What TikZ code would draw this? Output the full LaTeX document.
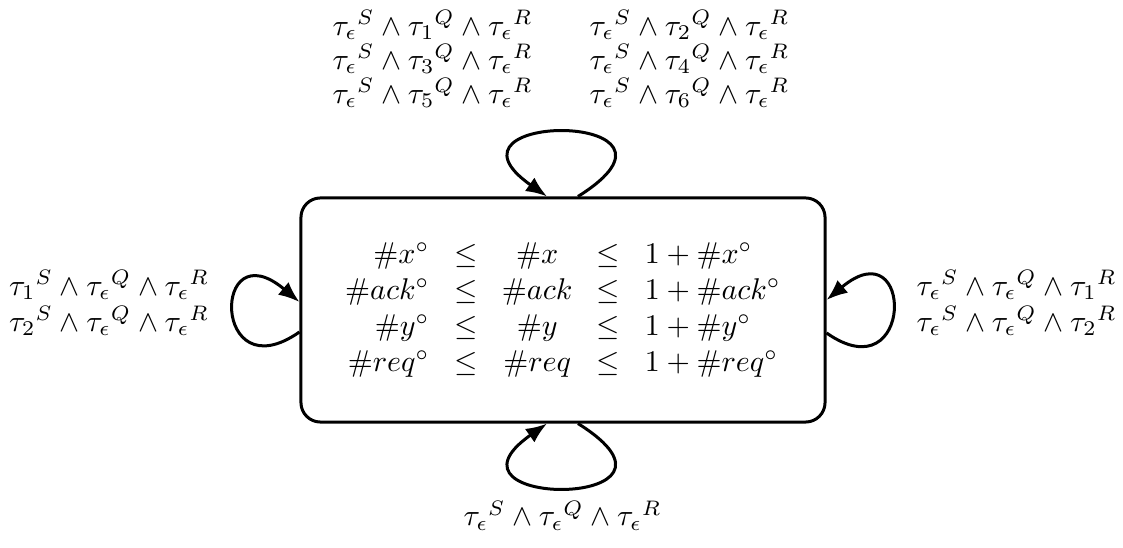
\documentclass[tikz,border=0pt]{standalone}
\usetikzlibrary{arrows.meta,calc}
\begin{document}
\begin{tikzpicture}[x=0.33333pt,y=0.33333pt]
\tikzset{
  statebox/.style={draw, line width=1pt, rounded corners=6.5pt, minimum width=174.7pt, minimum height=74.7pt, inner sep=0pt},
  loopline/.style={line width=1pt, -{Latex[length=7pt,width=5.5pt]}},
  lbl/.style={inner sep=0pt, align=center}
}
\useasboundingbox (0,0) rectangle (1123,547);
\node[statebox] (box) at (563,237) {\setlength{\arraycolsep}{4.1pt}$\begin{array}{rcccl}
\#x^\circ & \leq & \#x & \leq & 1+\#x^\circ\\
\#ack^\circ & \leq & \#ack & \leq & 1+\#ack^\circ\\
\#y^\circ & \leq & \#y & \leq & 1+\#y^\circ\\
\#req^\circ & \leq & \#req & \leq & 1+\#req^\circ
\end{array}$};
% top loop
\draw[loopline] ($(box.north)+(15,0)$) .. controls +(32:162) and +(145:150) .. ($(box.north)+(-16,0)$);
% bottom loop
\draw[loopline] ($(box.south)+(15,0)$) .. controls +(-32:162) and +(-145:150) .. ($(box.south)+(-16,0)$);
% left loop
\draw[loopline] ($(box.west)+(0,-22)$) .. controls +(215:107) and +(140:115) .. ($(box.west)+(0,8)$);
% right loop
\draw[loopline] ($(box.east)+(0,-23)$) .. controls +(-35:107) and +(40:115) .. ($(box.east)+(0,10)$);
% labels
\node[lbl] (ltop) at (561,488) {${\tau_\epsilon}^S \wedge {\tau_1}^Q \wedge {\tau_\epsilon}^R$\hspace{19pt}${\tau_\epsilon}^S \wedge {\tau_2}^Q \wedge {\tau_\epsilon}^R$\\[-0.7pt]
${\tau_\epsilon}^S \wedge {\tau_3}^Q \wedge {\tau_\epsilon}^R$\hspace{19pt}${\tau_\epsilon}^S \wedge {\tau_4}^Q \wedge {\tau_\epsilon}^R$\\[-0.7pt]
${\tau_\epsilon}^S \wedge {\tau_5}^Q \wedge {\tau_\epsilon}^R$\hspace{19pt}${\tau_\epsilon}^S \wedge {\tau_6}^Q \wedge {\tau_\epsilon}^R$};
\node[lbl] (lleft) at (109,244) {${\tau_1}^S \wedge {\tau_\epsilon}^Q \wedge {\tau_\epsilon}^R$\\
${\tau_2}^S \wedge {\tau_\epsilon}^Q \wedge {\tau_\epsilon}^R$};
\node[lbl] (lright) at (1016.5,244) {${\tau_\epsilon}^S \wedge {\tau_\epsilon}^Q \wedge {\tau_1}^R$\\
${\tau_\epsilon}^S \wedge {\tau_\epsilon}^Q \wedge {\tau_2}^R$};
\node[lbl, anchor=base] (lbot) at (562.5,21) {${\tau_\epsilon}^S \wedge {\tau_\epsilon}^Q \wedge {\tau_\epsilon}^R$};
\end{tikzpicture}
\end{document}
